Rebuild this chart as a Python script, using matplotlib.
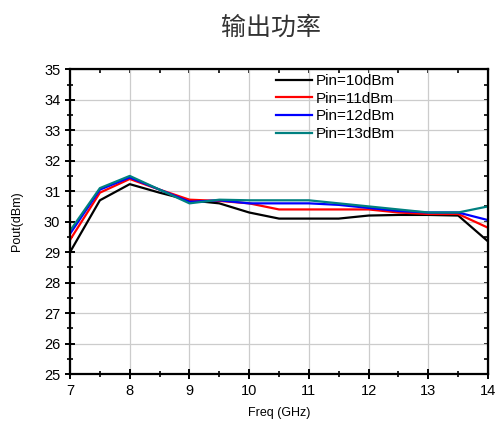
import numpy as np
import matplotlib.pyplot as plt
from matplotlib.ticker import MultipleLocator

# 数据
freq = [7, 7.5, 8, 8.5, 9, 9.5, 10, 10.5, 11, 11.5, 12, 12.5, 13, 13.5, 14]
pin10 = [29.0, 30.7, 31.23, 30.95, 30.7, 30.6, 30.3, 30.1, 30.1, 30.1, 30.2, 30.22, 30.22, 30.2, 29.35]
pin11 = [29.4, 30.95, 31.4, 31.05, 30.72, 30.68, 30.6, 30.4, 30.4, 30.4, 30.4, 30.3, 30.25, 30.25, 29.8]
pin12 = [29.6, 31.05, 31.45, 31.05, 30.65, 30.7, 30.6, 30.6, 30.6, 30.55, 30.45, 30.35, 30.3, 30.3, 30.05]
pin13 = [29.7, 31.1, 31.5, 31.05, 30.6, 30.72, 30.7, 30.7, 30.7, 30.6, 30.5, 30.4, 30.3, 30.3, 30.5]
labels = ["Pin=10dBm", "Pin=11dBm", "Pin=12dBm", "Pin=13dBm"]
colors = ["black", "red", "blue", "#008080"]

plt.rcParams['font.family'] = ['Liberation Sans', 'DejaVu Sans']

fig = plt.figure(figsize=(4.98, 4.25), dpi=100)
ax = fig.add_axes([0.1406, 0.12, 0.8394, 0.717])

for ys, lab, c in zip([pin10, pin11, pin12, pin13], labels, colors):
    ax.plot(freq, ys, color=c, lw=1.6, label=lab)

ax.set_xlim(7, 14)
ax.set_ylim(25, 35)
ax.xaxis.set_major_locator(MultipleLocator(1))
ax.xaxis.set_minor_locator(MultipleLocator(0.5))
ax.yaxis.set_major_locator(MultipleLocator(1))
ax.yaxis.set_minor_locator(MultipleLocator(0.5))
ax.grid(True, which='major', color='#cccccc', lw=0.9)
ax.set_axisbelow(True)

for s in ax.spines.values():
    s.set_linewidth(1.6)

ax.tick_params(which='major', direction='inout', length=7, width=1.4, labelsize=10.5,
               top=False, right=False)
ax.tick_params(which='minor', direction='inout', length=4, width=1.2,
               top=False, right=False)

# 上/右轴的内刻度
sec_x = ax.secondary_xaxis('top')
sec_x.xaxis.set_major_locator(MultipleLocator(1))
sec_x.xaxis.set_minor_locator(MultipleLocator(0.5))
sec_x.tick_params(which='both', direction='in', labeltop=False, length=3, width=1.2)
sec_y = ax.secondary_yaxis('right')
sec_y.yaxis.set_major_locator(MultipleLocator(1))
sec_y.yaxis.set_minor_locator(MultipleLocator(0.5))
sec_y.tick_params(which='both', direction='in', labelright=False, length=3, width=1.2)

ax.set_xlabel("Freq (GHz)", fontsize=9, labelpad=7)
ax.set_ylabel("Pout(dBm)", fontsize=9, labelpad=15)

ax.legend(loc='upper left', bbox_to_anchor=(0.49, 0.99), frameon=False, fontsize=11,
          handlelength=2.3, labelspacing=0.25, handletextpad=0.3, borderaxespad=0,
          borderpad=0.1)

fig.text(0.545, 0.935, "输出功率", ha='center', va='center', fontsize=18,
         family=['Noto Sans CJK SC', 'DejaVu Sans'], color='#333333', weight='light')

plt.savefig("out.png", dpi=100)
